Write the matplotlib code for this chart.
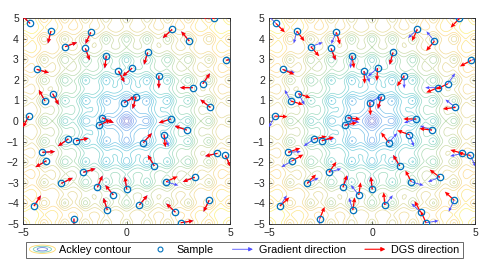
import numpy as np
import matplotlib
matplotlib.use('Agg')
import matplotlib.pyplot as plt
from matplotlib.colors import LinearSegmentedColormap
from matplotlib.legend_handler import HandlerBase
from matplotlib.patches import Ellipse, FancyArrowPatch, Patch
from matplotlib.lines import Line2D

plt.rcParams['font.family'] = ['Liberation Sans', 'DejaVu Sans']

# sample locations (same in both panels)
xs = [-4.66, -3.65, -1.73, -2.97, -1.99, -0.98, 1.02, 2.20, 3.03, 4.24,
      4.81, -4.34, -0.39, 0.27, 1.56, 3.20, 3.68, -3.94, -3.57, -0.11,
      0.46, 4.05, -4.72, -1.18, 2.14, -1.33, 2.91, -2.81, -2.44, 0.81,
      1.81, -4.07, -3.87, 1.34, 4.39, 4.77, -2.09, -3.15, -1.41, 0.01,
      -0.64, 1.91, 3.29, -4.47, -0.93, 0.62, 2.36, 3.99, -2.54, 2.62]
ys = [4.74, 4.37, 4.31, 3.61, 3.53, 3.17, 3.33, 4.45, 3.88, 4.98,
      2.95, 2.51, 2.43, 2.57, 2.20, 1.62, 1.81, 0.97, 1.33, 0.90,
      1.18, 0.66, 0.24, 0.16, 0.10, -0.21, -0.44, -0.87, -0.96, -1.05,
      -0.66, -1.52, -1.93, -2.18, -1.57, -1.67, -2.49, -3.03, -3.22, -3.32,
      -3.59, -2.95, -2.73, -4.13, -4.32, -4.08, -4.43, -3.85, -4.74, -4.94]

# gradient directions (unit vectors)
grad_u = [-0.70, -0.24, -0.41, 0.94, 0.34, -0.12, -0.29, -0.73, -0.63, -0.99,
          0.98, 0.96, 0.47, -0.76, 0.00, -1.00, 0.57, -0.48, 0.48, 0.88,
          -0.27, -0.79, -0.47, 0.91, -0.95, 0.90, -0.95, -0.82, 0.98, 0.67,
          0.36, 1.00, -0.86, -0.51, -0.97, 0.43, 0.96, 0.90, 0.40, -0.15,
          -0.63, 0.96, -0.93, 0.54, -0.30, 0.63, -0.72, -0.44, 0.00, 0.99]
grad_v = [0.70, -0.97, -0.91, 0.34, -0.94, -0.99, -0.96, -0.68, 0.77, 0.15,
          0.20, -0.27, -0.88, -0.65, -1.00, 0.00, 0.82, 0.88, -0.88, 0.47,
          -0.96, 0.62, -0.88, -0.40, -0.31, 0.44, 0.33, -0.57, 0.20, 0.75,
          -0.93, 0.06, -0.50, 0.86, -0.22, -0.90, 0.29, 0.44, 0.92, 0.99,
          0.77, -0.29, -0.36, 0.84, 0.95, 0.77, 0.69, -0.90, -1.00, 0.16]

# DGS directions, left panel
dgs1_u = list(grad_u)
dgs1_v = list(grad_v)
dgs1_u[30], dgs1_v[30] = 0.11, -0.99
dgs1_u[41], dgs1_v[41] = 0.90, 0.42

# DGS directions, right panel
dgs2_u = [0.70, 0.60, 0.29, 0.66, 0.37, 0.18, -0.26, -0.42, -0.65, -0.69,
          -0.88, 0.92, 0.06, -0.06, -0.56, -0.92, -0.90, 0.96, 0.94, 0.06,
          -0.30, -0.99, 1.00, 0.99, -1.00, 0.97, -0.99, 0.98, 0.95, -0.60,
          -0.95, 0.95, 0.87, -0.51, -0.96, -0.97, 0.58, 0.70, 0.30, -0.10,
          0.14, -0.47, -0.80, 0.74, 0.15, -0.09, -0.47, -0.74, 0.39, -0.41]
dgs2_v = [-0.70, -0.80, -0.96, -0.75, -0.93, -0.98, -0.96, -0.91, -0.76, -0.72,
          -0.48, -0.40, -1.00, -1.00, -0.83, -0.38, -0.43, -0.28, -0.33, -1.00,
          -0.95, -0.12, -0.05, -0.12, 0.00, 0.22, 0.12, 0.20, 0.30, 0.80,
          0.33, 0.33, 0.49, 0.86, 0.27, 0.20, 0.82, 0.70, 0.95, 1.00,
          0.99, 0.88, 0.60, 0.68, 0.99, 1.00, 0.88, 0.68, 0.92, 0.91]

arrow_len = 0.62

parula = LinearSegmentedColormap.from_list('parula', [
    (0.00, (0.2800, 0.2000, 0.7000)),
    (0.15, (0.1500, 0.3800, 0.9000)),
    (0.30, (0.0600, 0.5900, 0.8400)),
    (0.45, (0.0384, 0.6743, 0.7436)),
    (0.60, (0.3600, 0.7500, 0.5200)),
    (0.75, (0.7500, 0.7400, 0.3400)),
    (0.88, (0.9900, 0.7500, 0.2200)),
    (1.00, (0.9763, 0.9831, 0.0538))])

g = np.linspace(-5, 5, 401)
X, Y = np.meshgrid(g, g)
Z = (-20 * np.exp(-0.2 * np.sqrt(0.5 * (X**2 + Y**2)))
     - np.exp(0.5 * (np.cos(2 * np.pi * X) + np.cos(2 * np.pi * Y))) + np.e + 20)

blue = (0.30, 0.30, 1.0)
red = (1.0, 0.0, 0.0)
mblue = (0.0, 0.447, 0.741)

fig = plt.figure(figsize=(4.93, 2.66), dpi=100)
ax1 = fig.add_axes([0.0467, 0.158, 0.42, 0.774])
ax2 = fig.add_axes([0.5456, 0.158, 0.418, 0.774])

panels = [(ax1, dgs1_u, dgs1_v), (ax2, dgs2_u, dgs2_v)]
for ax, du, dv in panels:
    ax.contour(X, Y, Z, levels=26, cmap=parula, linewidths=0.5, alpha=0.55)
    ax.quiver(xs, ys, np.array(grad_u) * arrow_len, np.array(grad_v) * arrow_len,
              angles='xy', scale_units='xy', scale=1, color=blue,
              width=0.004, headwidth=4, headlength=5, headaxislength=4.5, zorder=3)
    ax.quiver(xs, ys, np.array(du) * arrow_len, np.array(dv) * arrow_len,
              angles='xy', scale_units='xy', scale=1, color=red,
              width=0.006, headwidth=3.5, headlength=4, headaxislength=3.6, zorder=4)
    ax.plot(xs, ys, 'o', mfc='none', mec=mblue, ms=4.6, mew=0.9, zorder=5)
    ax.set_xlim(-5, 5)
    ax.set_ylim(-5, 5)
    ax.set_xticks([-5, 0, 5])
    ax.set_yticks(range(-5, 6))
    ax.tick_params(direction='in', length=2.5, width=0.5, labelsize=7.5,
                   colors=(0.15, 0.15, 0.15), pad=3, top=True, right=True,
                   labeltop=False, labelright=False)
    for s in ax.spines.values():
        s.set_linewidth(0.6)
        s.set_color((0.15, 0.15, 0.15))


class ContourHandler(HandlerBase):
    def create_artists(self, legend, orig_handle, xdescent, ydescent,
                       width, height, fontsize, trans):
        cx = width / 2 - xdescent
        cy = height / 2 - ydescent
        arts = []
        cols = [parula(0.9), parula(0.55), parula(0.1)]
        for f, c in zip([1.0, 0.7, 0.4], cols):
            arts.append(Ellipse((cx, cy), width * f, height * 1.1 * f, fill=False,
                                edgecolor=c, lw=0.6, alpha=0.7, transform=trans))
        return arts


class ArrowHandler(HandlerBase):
    def __init__(self, color, lw):
        super().__init__()
        self.color = color
        self.lw = lw

    def create_artists(self, legend, orig_handle, xdescent, ydescent,
                       width, height, fontsize, trans):
        cy = height / 2 - ydescent
        a = FancyArrowPatch((-xdescent, cy), (width - xdescent, cy),
                            arrowstyle='-|>', mutation_scale=6, color=self.color,
                            lw=self.lw, transform=trans)
        return [a]


h_cont = Patch(label='Ackley contour')
h_samp = Line2D([], [], ls='none', marker='o', mfc='none', mec=mblue, ms=3.5,
                mew=0.8, label='Sample')
h_grad = Patch(label='Gradient direction')
h_dgs = Patch(label='DGS direction')

leg = fig.legend(handles=[h_cont, h_samp, h_grad, h_dgs],
                 handler_map={h_cont: ContourHandler(),
                              h_grad: ArrowHandler(blue, 0.6),
                              h_dgs: ArrowHandler(red, 0.8)},
                 loc='center', bbox_to_anchor=(0.496, 0.06), ncol=4,
                 fontsize=7.8, frameon=True, fancybox=False, handlelength=2.4,
                 handletextpad=0.3, columnspacing=1.5, borderpad=0.3)
leg.get_frame().set_edgecolor((0.15, 0.15, 0.15))
leg.get_frame().set_linewidth(0.6)

fig.savefig('out.png', dpi=100)
